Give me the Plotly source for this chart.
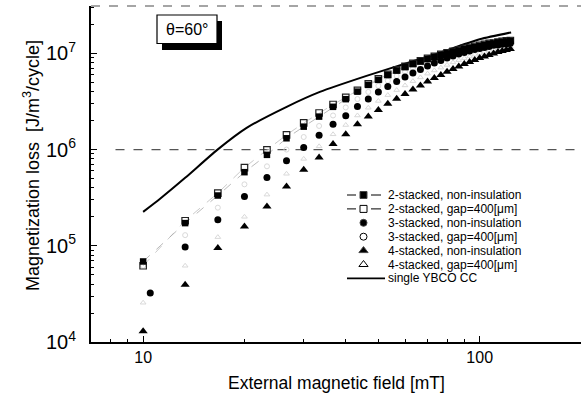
import math
import plotly.graph_objects as go

# ---------------- data ----------------
FIELD_MT = [10, 13.33, 16.67, 20, 23.33, 26.67, 30, 33.33, 36.67, 40, 43.33, 46.67,
            50, 53.33, 56.67, 60, 63.33, 66.67, 70, 73.33, 76.67, 80, 83.33, 86.67,
            90, 93.33, 96.67, 100, 103.33, 106.67, 110, 113.33, 116.67, 120, 123.33]
FIELD_MT_3 = [10.5, 13.33, 16.67, 20, 23.33, 26.67, 30, 33.33, 36.67, 40, 43.33, 46.67,
              50, 53.33, 56.67, 60, 63.33, 66.67, 70, 73.33, 76.67, 80, 83.33, 86.67,
              90, 93.33, 96.67, 100, 103.33, 106.67, 110, 113.33, 116.67, 120, 123.33]

LOSS_2_NON = [6.87e4, 1.72e5, 3.33e5, 5.82e5, 8.81e5, 1.31e6, 1.73e6, 2.20e6, 2.78e6, 3.34e6,
              4.00e6, 4.70e6, 5.30e6, 5.97e6, 6.64e6, 7.22e6, 7.76e6, 8.24e6, 8.75e6, 9.18e6,
              9.62e6, 9.98e6, 1.035e7, 1.072e7, 1.11e7, 1.138e7, 1.165e7, 1.19e7, 1.22e7,
              1.25e7, 1.27e7, 1.30e7, 1.31e7, 1.33e7, 1.35e7]
LOSS_2_GAP = [6.2e4, 1.82e5, 3.53e5, 6.5e5, 9.93e5, 1.42e6, 1.89e6, 2.40e6, 2.94e6, 3.48e6,
              4.12e6, 4.81e6, 5.42e6, 6.04e6, 6.73e6, 7.31e6, 7.85e6, 8.34e6, 8.85e6, 9.29e6,
              9.75e6, 1.01e7, 1.047e7, 1.085e7, 1.124e7, 1.15e7, 1.18e7, 1.21e7, 1.24e7,
              1.27e7, 1.28e7, 1.31e7, 1.33e7, 1.35e7, 1.36e7]
LOSS_3_NON = [3.23e4, 9.69e4, 1.86e5, 3.25e5, 5.12e5, 7.63e5, 1.05e6, 1.41e6, 1.83e6, 2.24e6,
              2.80e6, 3.36e6, 3.97e6, 4.53e6, 5.11e6, 5.69e6, 6.26e6, 6.80e6, 7.40e6, 7.95e6,
              8.44e6, 8.96e6, 9.40e6, 9.86e6, 1.021e7, 1.06e7, 1.097e7, 1.124e7, 1.15e7,
              1.18e7, 1.21e7, 1.22e7, 1.24e7, 1.25e7, 1.27e7]
LOSS_3_GAP = [6.2e4, 1.29e5, 2.49e5, 4.35e5, 6.7e5, 1.0e6, 1.35e6, 1.76e6, 2.26e6, 2.74e6,
              3.35e6, 3.97e6, 4.59e6, 5.2e6, 5.82e6, 6.41e6, 6.97e6, 7.49e6, 8.05e6, 8.54e6,
              9.01e6, 9.46e6, 9.86e6, 1.028e7, 1.065e7, 1.098e7, 1.13e7, 1.157e7, 1.185e7,
              1.214e7, 1.24e7, 1.26e7, 1.275e7, 1.29e7, 1.31e7]
LOSS_4_NON = [1.29e4, 3.94e4, 9.46e4, 1.59e5, 2.56e5, 4.13e5, 6.15e5, 8.26e5, 1.14e6, 1.44e6,
              1.83e6, 2.21e6, 2.58e6, 2.99e6, 3.37e6, 3.79e6, 4.22e6, 4.64e6, 5.11e6, 5.55e6,
              5.97e6, 6.42e6, 6.89e6, 7.31e6, 7.76e6, 8.14e6, 8.54e6, 8.97e6, 9.29e6, 9.62e6,
              9.97e6, 1.035e7, 1.06e7, 1.08e7, 1.11e7]
LOSS_4_GAP = [2.56e4, 6.2e4, 1.23e5, 2.0e5, 3.4e5, 5.6e5, 8.0e5, 1.08e6, 1.44e6, 1.8e6,
              2.26e6, 2.72e6, 3.2e6, 3.68e6, 4.15e6, 4.64e6, 5.14e6, 5.62e6, 6.15e6, 6.64e6,
              7.1e6, 7.58e6, 8.05e6, 8.49e6, 8.9e6, 9.29e6, 9.68e6, 1.004e7, 1.034e7, 1.065e7,
              1.098e7, 1.124e7, 1.146e7, 1.162e7, 1.187e7]

FIELD_SINGLE = [10, 11.23, 13.33, 16.6, 20.3, 26.7, 33.5, 46.1, 60, 72.7, 100, 124]
LOSS_SINGLE = [2.25e5, 3.08e5, 5.08e5, 9.93e5, 1.68e6, 2.78e6, 3.97e6, 5.83e6, 7.8e6,
               9.62e6, 1.40e7, 1.65e7]

LEGEND_LABELS = ["2-stacked, non-insulation", "2-stacked, gap=400[\u03bcm]",
                 "3-stacked, non-insulation", "3-stacked, gap=400[\u03bcm]",
                 "4-stacked, non-insulation", "4-stacked, gap=400[\u03bcm]",
                 "single YBCO CC"]
X_TITLE = "External magnetic field [mT]"
Y_TITLE = "Magnetization loss  [J/m<sup>3</sup>/cycle]"
BOX_TEXT = "\u03b8=60\u00b0"

X_RANGE = [math.log10(7), math.log10(200)]
Y_RANGE = [4, 7.492]

# ---------------- layout geometry ----------------
W, H = 582, 396
ML, MR, MT, MB = 91, 1, 6, 54
PW = W - ML - MR
PH = H - MT - MB
FONT = "Arial, 'Liberation Sans', Helvetica, sans-serif"


def px(xp):
    return (xp - ML) / PW


def py(yp):
    return (H - MB - yp) / PH


fig = go.Figure()

# connecting dashed lines of the 2-stacked series (faint in the reference)
fig.add_trace(go.Scatter(x=FIELD_MT, y=LOSS_2_GAP, mode="lines",
                         line=dict(color="#bdbdbd", width=0.8, dash="dash"),
                         showlegend=False, hoverinfo="skip"))
fig.add_trace(go.Scatter(x=FIELD_MT, y=LOSS_2_NON, mode="lines",
                         line=dict(color="#a8a8a8", width=0.8, dash="dash"),
                         showlegend=False, hoverinfo="skip"))

# faint open symbols (barely visible in the scan)
fig.add_trace(go.Scatter(x=FIELD_MT, y=LOSS_3_GAP, mode="markers",
                         marker=dict(symbol="circle-open", size=5, color="#d9d9d9",
                                     line=dict(width=1)), showlegend=False))
fig.add_trace(go.Scatter(x=FIELD_MT, y=LOSS_4_GAP, mode="markers",
                         marker=dict(symbol="triangle-up-open", size=5, color="#d9d9d9",
                                     line=dict(width=1)), showlegend=False))

# single YBCO CC
fig.add_trace(go.Scatter(x=FIELD_SINGLE, y=LOSS_SINGLE, mode="lines",
                         line=dict(color="black", width=2, shape="spline", smoothing=0.6),
                         showlegend=False))

fig.add_trace(go.Scatter(x=FIELD_MT, y=LOSS_2_GAP, mode="markers",
                         marker=dict(symbol="square-open", size=6.5, color="#222",
                                     line=dict(width=1.2)), showlegend=False))
fig.add_trace(go.Scatter(x=FIELD_MT, y=LOSS_2_NON, mode="markers",
                         marker=dict(symbol="square", size=6.5, color="black"),
                         showlegend=False))
fig.add_trace(go.Scatter(x=FIELD_MT_3, y=LOSS_3_NON, mode="markers",
                         marker=dict(symbol="circle", size=7, color="black"),
                         showlegend=False))
fig.add_trace(go.Scatter(x=FIELD_MT, y=LOSS_4_NON, mode="markers",
                         marker=dict(symbol="triangle-up", size=8, color="black"),
                         showlegend=False))

# ---------------- hand-drawn legend (overlay axes in 0..1) ----------------
LEG_TOP_PX = 195.0
LEG_STEP_PX = 13.9
LEG_SYMBOLS = ["square", "square-open", "circle", "circle-open",
               "triangle-up", "triangle-up-open", None]
sym_x = px(363.5)
for i, (lab, sym) in enumerate(zip(LEGEND_LABELS, LEG_SYMBOLS)):
    yy = py(LEG_TOP_PX + LEG_STEP_PX * i)
    if i in (0, 1):
        fig.add_trace(go.Scatter(x=[px(347), px(356), None, px(371), px(381)],
                                 y=[yy, yy, None, yy, yy], mode="lines",
                                 line=dict(color="black", width=1),
                                 xaxis="x2", yaxis="y2", showlegend=False,
                                 hoverinfo="skip"))
    if sym is None:
        fig.add_trace(go.Scatter(x=[px(347), px(385)], y=[yy, yy], mode="lines",
                                 line=dict(color="black", width=1.6),
                                 xaxis="x2", yaxis="y2", showlegend=False,
                                 hoverinfo="skip"))
    else:
        size = 8 if "triangle" in sym else 7
        fig.add_trace(go.Scatter(x=[sym_x], y=[yy], mode="markers",
                                 marker=dict(symbol=sym, size=size, color="black",
                                             line=dict(width=1)),
                                 xaxis="x2", yaxis="y2", showlegend=False,
                                 hoverinfo="skip"))
    fig.add_annotation(x=px(387), y=yy, xref="paper", yref="paper", text=lab,
                       showarrow=False, xanchor="left", yanchor="middle",
                       borderpad=0,
                       font=dict(family=FONT, size=12, color="black"))

# ---------------- theta box ----------------
fig.add_shape(type="rect", xref="paper", yref="paper",
              x0=px(162), x1=px(222), y0=py(50), y1=py(21),
              fillcolor="black", line=dict(width=0))
fig.add_shape(type="rect", xref="paper", yref="paper",
              x0=px(157), x1=px(217), y0=py(43.5), y1=py(15),
              fillcolor="white", line=dict(color="black", width=1.2))
fig.add_annotation(x=px(187), y=py(29.5), xref="paper", yref="paper", text=BOX_TEXT,
                   showarrow=False, xanchor="center", yanchor="middle",
                   font=dict(family=FONT, size=16, color="black"))

# ---------------- scan artefacts: dashed top frame and 1e6 grid line ----------------
y6 = (6 - Y_RANGE[0]) / (Y_RANGE[1] - Y_RANGE[0])
fig.add_shape(type="line", xref="paper", yref="paper", x0=0.05, x1=1, y0=y6, y1=y6,
              line=dict(color="#555", width=1.2, dash="dash"), layer="below")
fig.add_shape(type="line", xref="paper", yref="paper", x0=0, x1=1, y0=1, y1=1,
              line=dict(color="#888", width=1.3, dash="dash"))

# ---------------- axis titles ----------------
fig.add_annotation(x=0.5, y=py(383), xref="paper", yref="paper", text=X_TITLE,
                   showarrow=False, xanchor="center", yanchor="middle",
                   font=dict(family=FONT, size=17.5, color="black"))
fig.add_annotation(x=px(31), y=py(166), xref="paper", yref="paper", text=Y_TITLE,
                   showarrow=False, xanchor="center", yanchor="middle", textangle=-90,
                   font=dict(family=FONT, size=18, color="black"))

fig.update_layout(
    width=W, height=H,
    margin=dict(l=ML, r=MR, t=MT, b=MB, autoexpand=False),
    paper_bgcolor="white", plot_bgcolor="white",
    showlegend=False,
    font=dict(family=FONT, size=16, color="black"),
    xaxis=dict(type="log", range=X_RANGE, dtick=1, tick0=0,
               showline=True, linecolor="black", linewidth=1.6,
               ticks="inside", ticklen=6, tickwidth=1.2, tickcolor="black",
               showgrid=False, zeroline=False, mirror=False,
               tickfont=dict(family=FONT, size=16), ticklabelstandoff=0,
               minor=dict(ticks="inside", ticklen=3, tickcolor="black", dtick="D1",
                          showgrid=False)),
    yaxis=dict(type="log", range=Y_RANGE, dtick=1, exponentformat="power",
               showline=True, linecolor="black", linewidth=1.6,
               ticks="inside", ticklen=6, tickwidth=1.2, tickcolor="black",
               showgrid=False, zeroline=False, mirror=False,
               tickfont=dict(family=FONT, size=16), ticklabelstandoff=10,
               minor=dict(ticks="inside", ticklen=3, tickcolor="black", dtick="D1",
                          showgrid=False)),
    xaxis2=dict(overlaying="x", range=[0, 1], visible=False, fixedrange=True),
    yaxis2=dict(overlaying="y", range=[0, 1], visible=False, fixedrange=True),
)

fig.write_html("out.html")
